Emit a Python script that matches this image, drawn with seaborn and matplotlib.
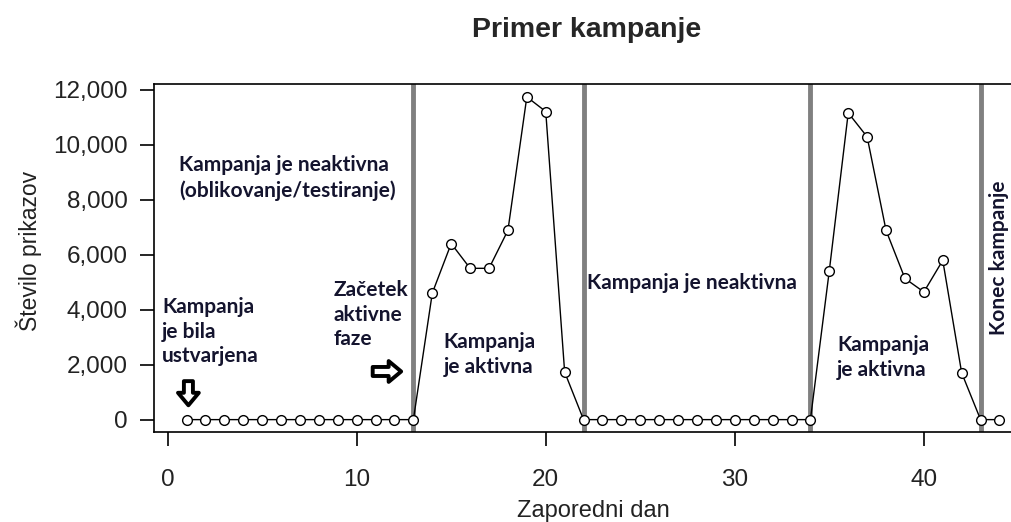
import matplotlib
matplotlib.use("Agg")
import matplotlib.pyplot as plt
import seaborn as sns
import pandas as pd

# data
days = list(range(1, 45))
views = ([0] * 13
         + [4600, 6400, 5500, 5500, 6880, 11730, 11200, 1730]
         + [0] * 13
         + [5420, 11150, 10280, 6880, 5130, 4640, 5790, 1700]
         + [0, 0])
phase_bounds = [13, 22, 34, 43]
y_ticks = [0, 2000, 4000, 6000, 8000, 10000, 12000]
x_ticks = [0, 10, 20, 30, 40]

df = pd.DataFrame({"Zaporedni dan": days, "Število prikazov": views})

sns.set_style("white")
plt.rcParams["font.family"] = ["Liberation Sans", "DejaVu Sans"]

fig = plt.figure(figsize=(10.11, 5.22), dpi=100)
ax = fig.add_axes([154 / 1011, 90 / 522, 878 / 1011, 348 / 522])

for b in phase_bounds:
    ax.axvline(b, color="#808080", lw=3.5, zorder=1)

sns.lineplot(data=df, x="Zaporedni dan", y="Število prikazov", ax=ax,
             color="black", lw=1, marker="o", markersize=7,
             markerfacecolor="white", markeredgecolor="black",
             markeredgewidth=1, zorder=3)

ax.set_xlim(-0.72, 45.72)
ax.set_ylim(-450, 12200)
ax.set_xticks(x_ticks)
ax.set_yticks(y_ticks)
ax.set_yticklabels([f"{v:,}" for v in y_ticks])
ax.tick_params(axis="both", direction="out", length=10, width=1.2,
               color="black", labelsize=17.5, labelcolor="#222222",
               bottom=True, left=True)
ax.tick_params(axis="x", pad=17)
ax.tick_params(axis="y", pad=9)
for s in ax.spines.values():
    s.set_color("black")
    s.set_linewidth(1.2)

ax.set_xlabel("Zaporedni dan", fontsize=17, color="#222222", labelpad=6)
ax.set_ylabel("Število prikazov", fontsize=16.5, color="#222222")
ax.yaxis.set_label_coords(-0.127, 0.52)
fig.text(587 / 1011, 1 - 30 / 522, "Primer kampanje", ha="center", va="center",
         fontsize=20.5, fontweight="bold")

# annotations
note = dict(fontsize=15, fontweight="bold", color="#14142e",
            family=["Lato", "DejaVu Sans"], linespacing=1.3)
ax.text(0.6, 8780, "Kampanja je neaktivna\n(oblikovanje/testiranje)",
        ha="left", va="center", **note)
ax.text(-0.3, 3200, "Kampanja\nje bila\nustvarjena", ha="left", va="center", **note)
ax.text(8.8, 3820, "Začetek\naktivne\nfaze", ha="left", va="center", **note)
ax.text(14.6, 2360, "Kampanja\nje aktivna", ha="left", va="center", **note)
ax.text(22.2, 4950, "Kampanja je neaktivna", ha="left", va="center", **note)
ax.text(35.4, 2250, "Kampanja\nje aktivna", ha="left", va="center", **note)
ax.text(44.0, 5900, "Konec kampanje", ha="center", va="center", rotation=90, **note)

arrow = dict(arrowstyle="simple,head_width=1.5,head_length=0.9,tail_width=0.65",
             fc="white", ec="black", lw=2.8)
ax.annotate("", xy=(1.1, 420), xytext=(1.1, 1500), arrowprops=arrow)
ax.annotate("", xy=(12.5, 1750), xytext=(10.7, 1750), arrowprops=arrow)

fig.savefig("out.png", dpi=100)
